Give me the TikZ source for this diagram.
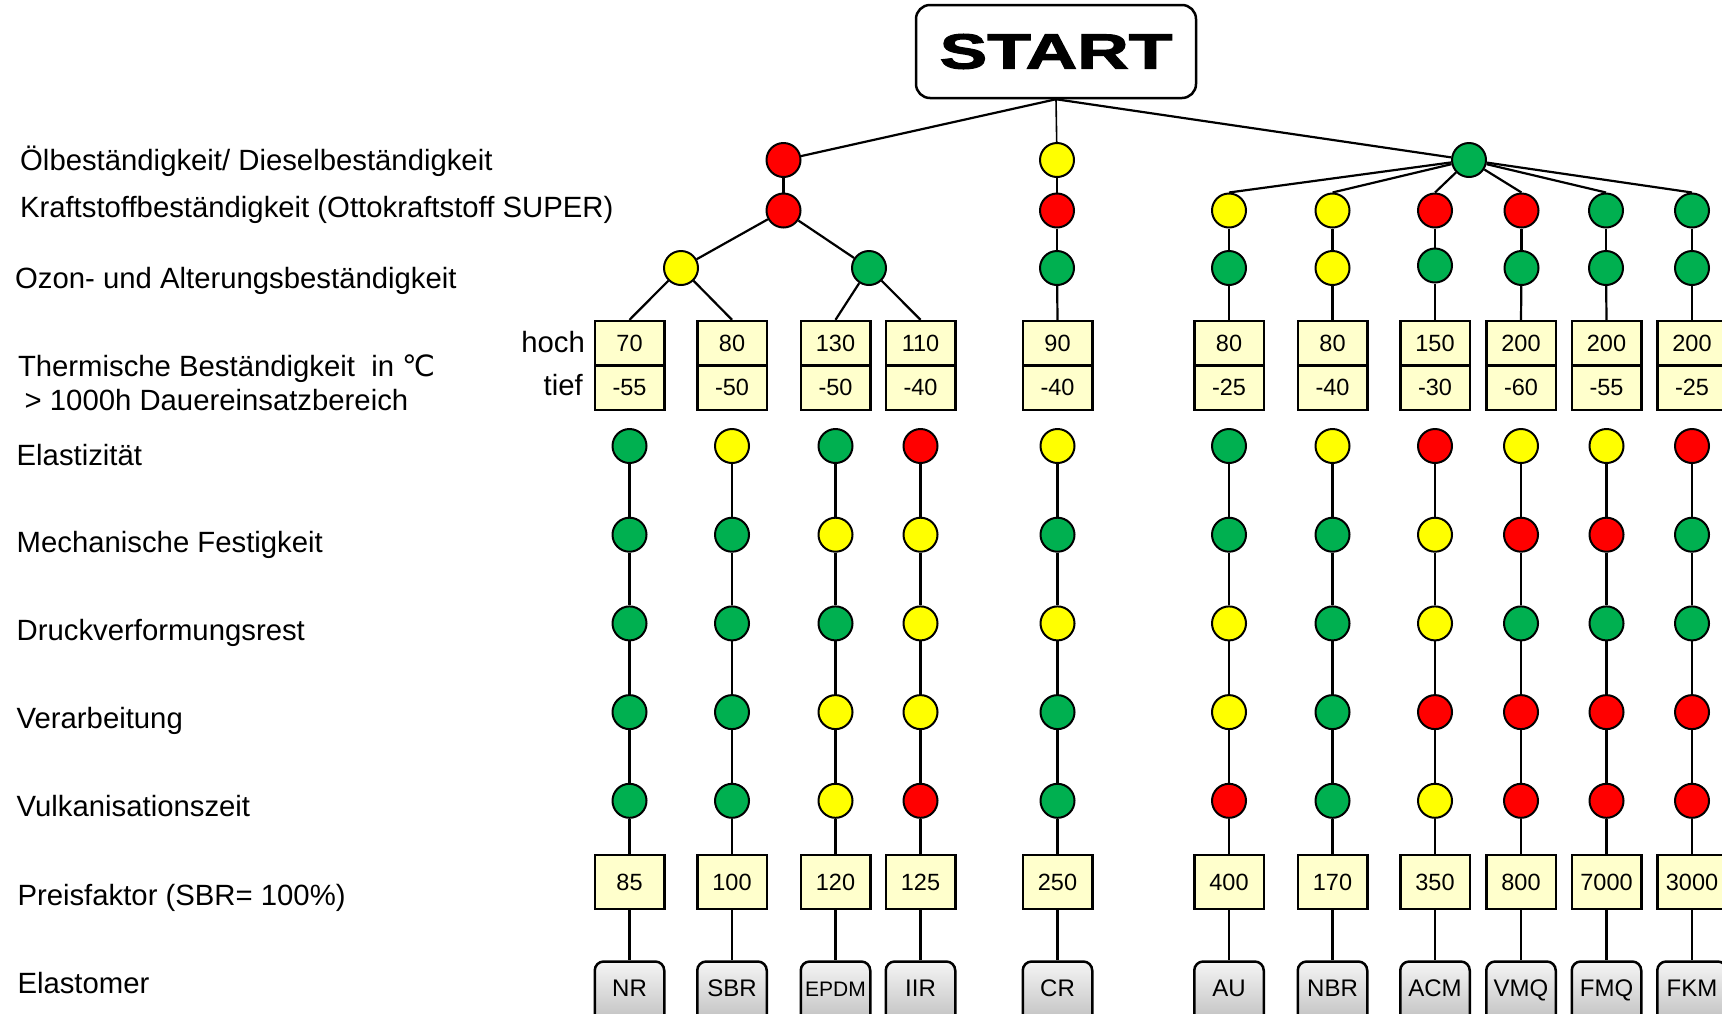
\documentclass[tikz,border=0pt]{standalone}
\usepackage{fontspec}
\usepackage{graphicx}
\setmainfont{Liberation Sans}
\newfontfamily\dejavu{DejaVu Sans}
\newfontfamily\startfont[FakeBold=2]{Liberation Sans Bold}
\definecolor{cR}{RGB}{255,0,0}
\definecolor{cY}{RGB}{255,255,0}
\definecolor{cG}{RGB}{0,176,80}
\definecolor{boxfill}{RGB}{255,255,204}
\tikzset{
  dot/.style={circle, draw=black, line width=2pt, minimum size=34pt, inner sep=0pt},
  conn/.style={line width=2.2pt, draw=black},
  tbox/.style={draw=black, line width=2.5pt, fill=boxfill, minimum width=69.5pt, minimum height=44.5pt, inner sep=0pt, font=\fontsize{23.5}{23.5}\selectfont},
  pbox/.style={tbox, minimum height=54pt},
  ebox/.style={draw=black, line width=2.5pt, rounded corners=9pt, top color=black!4, bottom color=black!26, minimum width=69.5pt, inner xsep=0pt, inner ysep=0pt, text height=35pt, text depth=30pt, font=\fontsize{24}{24}\selectfont, anchor=base},
  lab/.style={anchor=base west, inner sep=0pt, font=\fontsize{29.3}{29.3}\selectfont},
  startbox/.style={draw=black, line width=2.5pt, rounded corners=14pt, minimum width=280pt, minimum height=93pt, inner sep=0pt},
}
\begin{document}
\begin{tikzpicture}[x=1pt,y=-1pt]
\useasboundingbox (0,0) rectangle (1722,1013);
\clip (0,0) rectangle (1722,1013);

% left labels
\node[lab] (l1) at (20,170.7) {Ölbeständigkeit/ Dieselbeständigkeit};
\node[lab] (l2) at (19.8,217.3) {Kraftstoffbeständigkeit (Ottokraftstoff SUPER)};
\node[lab] (l3) at (15,288.3) {Ozon- und Alterungsbeständigkeit};
\node[lab] (l4) at (17.8,376.7) {Thermische Beständigkeit~ in {\dejavu ℃}};
\node[lab] (l4b) at (24.5,410) {> 1000h Dauereinsatzbereich};
\node[lab] (l5) at (16.5,465) {Elastizität};
\node[lab] (l6) at (16.5,552.5) {Mechanische Festigkeit};
\node[lab] (l7) at (16.5,640.5) {Druckverformungsrest};
\node[lab] (l8) at (16.5,728.5) {Verarbeitung};
\node[lab] (l9) at (16.5,816.5) {Vulkanisationszeit};
\node[lab] (l10) at (17.3,905) {Preisfaktor (SBR= 100\%)};
\node[lab] (l11) at (17.3,993.3) {Elastomer};
\node[lab, anchor=base east] (hoch) at (585,352.7) {hoch};
\node[lab, anchor=base east] (tief) at (583,395) {tief};

% start
\node[startbox] (start) at (1056,51.5) {\scalebox{1.4}[0.97]{\startfont\fontsize{51}{51}\selectfont START}};

% top tree
\node[dot,fill=cR] (oilL) at (783.5,160) {};
\node[dot,fill=cY] (oilC) at (1057,160) {};
\node[dot,fill=cG] (oilR) at (1469,160) {};
\node[dot,fill=cR] (kfL) at (783.5,210.5) {};
\node[dot,fill=cR] (kfC) at (1057,210.5) {};
\node[dot,fill=cY] (ozL1) at (681,268) {};
\node[dot,fill=cG] (ozL2) at (869,268) {};
\node[dot,fill=cG] (ozC) at (1057,268) {};

% right group kraft / ozon circles
\foreach \n/\x/\k/\o/\oy in {AU/1229/Y/G/268, NBR/1332.5/Y/Y/268, ACM/1435/R/G/265.5, VMQ/1521.5/R/G/268, FMQ/1606/G/G/268, FKM/1692/G/G/268}{
  \node[dot,fill=c\k] (\n-k) at (\x,210.5) {};
  \node[dot,fill=c\o] (\n-o) at (\x,\oy) {};
}

% columns
\foreach \n/\x/\a/\b/\c/\d/\e/\hi/\lo/\pr/\el/\ef in {
  NR/629.5/G/G/G/G/G/70/-55/85/NR/24,
  SBR/732/Y/G/G/G/G/80/-50/100/SBR/24,
  EPDM/835.5/G/Y/G/Y/Y/130/-50/120/EPDM/21,
  IIR/920.5/R/Y/Y/Y/R/110/-40/125/IIR/24,
  CR/1057.5/Y/G/Y/G/G/90/-40/250/CR/24,
  AU/1229/G/G/Y/Y/R/80/-25/400/AU/24,
  NBR/1332.5/Y/G/G/G/G/80/-40/170/NBR/24,
  ACM/1435/R/Y/Y/R/Y/150/-30/350/ACM/24,
  VMQ/1521/Y/R/G/R/R/200/-60/800/VMQ/24,
  FMQ/1606.5/Y/R/G/R/R/200/-55/7000/FMQ/24,
  FKM/1692/R/G/G/R/R/200/-25/3000/FKM/24}{
  \node[tbox] (\n-hi) at (\x,343.3) {\hi};
  \node[tbox] (\n-lo) at (\x,387.8) {\lo};
  \node[dot,fill=c\a] (\n-e1) at (\x,446) {};
  \node[dot,fill=c\b] (\n-e2) at (\x,534.7) {};
  \node[dot,fill=c\c] (\n-e3) at (\x,623.4) {};
  \node[dot,fill=c\d] (\n-e4) at (\x,712.1) {};
  \node[dot,fill=c\e] (\n-e5) at (\x,800.8) {};
  \node[pbox] (\n-p) at (\x,882) {\pr};
  \node[ebox, font=\fontsize{\ef}{\ef}\selectfont] (\n-el) at (\x,996.5) {\el};
  \draw[conn] (\n-e1) -- (\n-e2);
  \draw[conn] (\n-e2) -- (\n-e3);
  \draw[conn] (\n-e3) -- (\n-e4);
  \draw[conn] (\n-e4) -- (\n-e5);
  \draw[conn] (\n-e5) -- (\n-p);
  \draw[conn] (\n-p) -- (\n-el);
}

% tree connectors
\draw[conn] (start.south) -- (oilL);
\draw[conn, line width=1.6pt] (start.south) -- (oilC);
\draw[conn] (start.south) -- (oilR);
\draw[conn] (oilL) -- (kfL);
\draw[conn] (kfL) -- (ozL1);
\draw[conn] (kfL) -- (ozL2);
\draw[conn] (ozL1) -- (NR-hi.north);
\draw[conn] (ozL1) -- (SBR-hi.north);
\draw[conn] (ozL2) -- (EPDM-hi.north);
\draw[conn] (ozL2) -- (IIR-hi.north);
\draw[conn] (oilC) -- (kfC);
\draw[conn] (kfC) -- (ozC);
\draw[conn] (ozC) -- (CR-hi.north);
\foreach \n in {AU,NBR,ACM,VMQ,FMQ,FKM}{
  \draw[conn] (oilR) -- (\n-k.north);
  \draw[conn] (\n-k) -- (\n-o);
  \draw[conn] (\n-o) -- (\n-hi.north);
}
\end{tikzpicture}
\end{document}
